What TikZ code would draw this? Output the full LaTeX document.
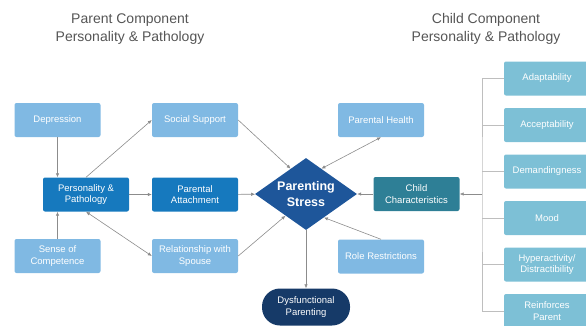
\documentclass[tikz,border=0pt]{standalone}
\usepackage{fontspec}
\setmainfont{Liberation Sans}
\usetikzlibrary{shapes.geometric,arrows.meta,calc}

\definecolor{lightblue}{RGB}{128,185,227}
\definecolor{midblue}{RGB}{22,121,190}
\definecolor{stressblue}{RGB}{30,86,154}
\definecolor{childteal}{RGB}{46,127,150}
\definecolor{navy}{RGB}{22,58,104}
\definecolor{traitblue}{RGB}{125,192,214}
\definecolor{titlegray}{RGB}{85,85,85}
\definecolor{linegray}{RGB}{140,140,140}
\definecolor{busgray}{RGB}{190,190,190}

\begin{document}
\begin{tikzpicture}[x=1pt,y=-1pt]
\tikzstyle{every node}+=[inner sep=0pt]
\tikzstyle{box}=[rectangle,rounded corners=2pt,minimum width=86pt,minimum height=34pt,text=white,align=center,font=\fontsize{9.5}{11.5}\selectfont]
\tikzstyle{lbox}=[box,fill=lightblue]
\tikzstyle{dbox}=[box,fill=midblue]
\tikzstyle{tbox}=[box,fill=traitblue]
\tikzstyle{title}=[text=titlegray,align=center,font=\fontsize{14}{18}\selectfont]
\tikzstyle{conn}=[draw=linegray,line width=0.6pt]
\tikzstyle{tip}=[-{Latex[length=4pt,width=3.5pt]}]
\tikzstyle{tips}=[{Latex[length=4pt,width=3.5pt]}-{Latex[length=4pt,width=3.5pt]}]
\clip (0,0) rectangle (586,325);

% titles
\node[title] (parenttitle) at (130,29) {Parent Component\\Personality \& Pathology};
\node[title] (childtitle) at (486,29) {Child Component\\Personality \& Pathology};

% parent side
\node[lbox] (dep) at (57.5,120) {Depression};
\node[lbox] (social) at (195,120) {Social Support};
\node[dbox] (pers) at (86,194.5) {Personality \&\\Pathology};
\node[dbox] (attach) at (195,194.5) {Parental\\Attachment};
\node[lbox] (compet) at (57.5,256) {Sense of\\Competence};
\node[lbox] (spouse) at (195,256) {Relationship with\\Spouse};

% centre
\node[diamond,aspect=1.4,fill=stressblue,minimum width=102pt,minimum height=72pt,text=white,align=center,font=\fontsize{12.5}{15.5}\selectfont\bfseries] (stress) at (306,194) {Parenting\\Stress};
\node[box,fill=navy,rounded corners=18pt,minimum width=88pt,minimum height=37pt] (dysf) at (306,307) {Dysfunctional\\Parenting};
\node[lbox] (health) at (381,120) {Parental Health};
\node[lbox] (role) at (381,256.5) {Role Restrictions};
\node[box,fill=childteal] (child) at (416.5,194) {Child\\Characteristics};

% child side
\node[tbox] (adapt) at (547,78.5) {Adaptability};
\node[tbox] (accept) at (547,125) {Acceptability};
\node[tbox] (demand) at (547,171.5) {Demandingness};
\node[tbox] (mood) at (547,218) {Mood};
\node[tbox] (hyper) at (547,264.5) {Hyperactivity/\\Distractibility};
\node[tbox] (reinf) at (547,311) {Reinforces\\Parent};
\coordinate (bus) at (482,194);

\draw[conn,tip] (dep.south) -- (dep.south |- pers.north);
\draw[conn,tip] (compet.north) -- (compet.north |- pers.south);
\draw[conn,tip] (pers.north) -- (social.west);
\draw[conn,tips] (pers.south) -- (spouse.west);
\draw[conn,tip] (pers) -- (attach);
\draw[conn,tip] (attach) -- (stress);
\draw[conn,tip] (social.east) -- ($(stress.north)!0.3!(stress.west)$);
\draw[conn,tip] (spouse.east) -- ($(stress.south)!0.4!(stress.west)$);
\draw[conn,tips] (health.south) -- ($(stress.north)!0.3!(stress.east)$);
\draw[conn,tip] (role.north) -- ($(stress.south)!0.35!(stress.east)$);
\draw[conn,tip] (child) -- (stress);
\draw[conn,tip] (stress) -- (dysf);
\draw[busgray,line width=0.6pt] (adapt.west) -| (bus) |- (reinf.west);
\draw[busgray,line width=0.6pt] (accept.west) -- (accept.west -| bus);
\draw[busgray,line width=0.6pt] (demand.west) -- (demand.west -| bus);
\draw[busgray,line width=0.6pt] (mood.west) -- (mood.west -| bus);
\draw[busgray,line width=0.6pt] (hyper.west) -- (hyper.west -| bus);
\draw[conn,tip] (bus) -- (child);
\end{tikzpicture}
\end{document}
